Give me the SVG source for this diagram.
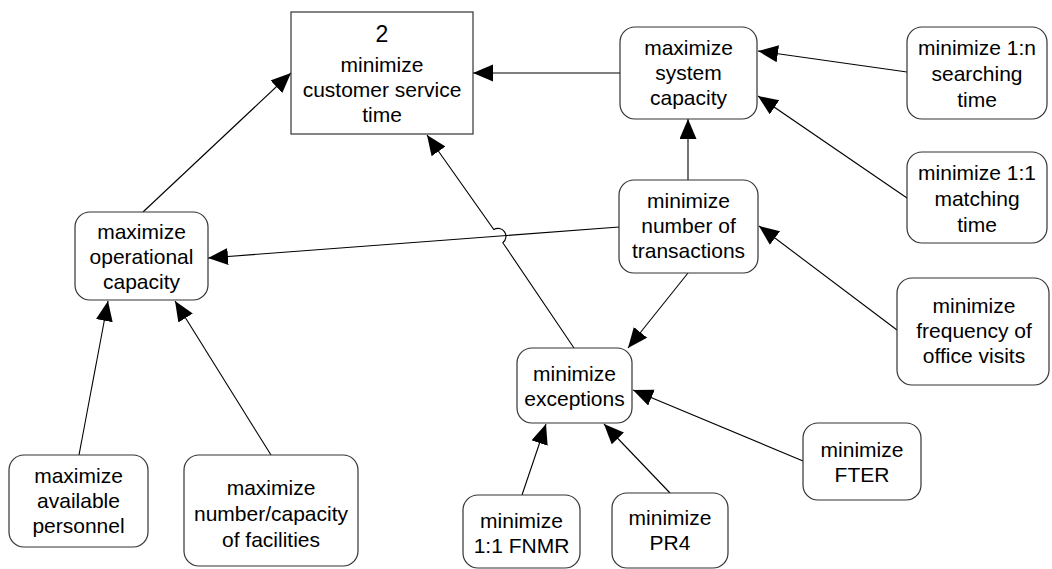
<svg xmlns="http://www.w3.org/2000/svg" width="1052" height="569" viewBox="0 0 1052 569">
  <style>
    .box { fill: #ffffff; stroke: #333333; stroke-width: 1.2; }
    .lbl { font-family: "Liberation Sans", Arial, sans-serif; font-size: 21px; fill: #000000; text-anchor: middle; }
    .big { font-size: 23px; }
    .edge { fill: none; stroke: #000000; stroke-width: 1.1; marker-end: url(#head); }
  </style>
  <defs>
    <marker id="head" markerUnits="userSpaceOnUse" markerWidth="21" markerHeight="18" refX="20" refY="8.5" orient="auto">
      <path d="M0,0 L20,8.5 L0,17 z" fill="#000000"/>
    </marker>
  </defs>
  <rect width="1052" height="569" fill="#ffffff"/>

  <g id="connectors">
    <path class="edge" d="M620,73 L473,73"/>
    <path class="edge" d="M907,72 L758,51"/>
    <path class="edge" d="M907,198 L758,96"/>
    <path class="edge" d="M688,180 L688,119"/>
    <path class="edge" d="M619,227 L208,258"/>
    <path class="edge" d="M143,212 L291,73"/>
    <!-- crosses the horizontal link with a small hop -->
    <path class="edge" d="M574,348 L502.8,242.7 A8,8 0 0 0 493.8,229.5 L427,135"/>
    <path class="edge" d="M688,273 L628,348"/>
    <path class="edge" d="M897,330 L759,226"/>
    <path class="edge" d="M803,461 L633,390"/>
    <path class="edge" d="M522,495 L546,424"/>
    <path class="edge" d="M670,493 L604,424"/>
    <path class="edge" d="M79,455 L108,301"/>
    <path class="edge" d="M271,455 L175,301"/>
  </g>

  <g id="node-service-time">
    <rect class="box" x="291" y="12" width="182" height="122"/>
    <text class="lbl big" x="382" y="42">2</text>
    <text class="lbl" x="382" y="72">minimize</text>
    <text class="lbl" x="382" y="97">customer service</text>
    <text class="lbl" x="382" y="122">time</text>
  </g>

  <g id="node-system-capacity">
    <rect class="box" x="620" y="27" width="137" height="92" rx="15"/>
    <text class="lbl" x="688.5" y="55">maximize</text>
    <text class="lbl" x="688.5" y="80">system</text>
    <text class="lbl" x="688.5" y="105">capacity</text>
  </g>

  <g id="node-searching-time">
    <rect class="box" x="907" y="27" width="140" height="92" rx="15"/>
    <text class="lbl" x="977" y="55">minimize 1:n</text>
    <text class="lbl" x="977" y="81">searching</text>
    <text class="lbl" x="977" y="107">time</text>
  </g>

  <g id="node-matching-time">
    <rect class="box" x="907" y="152" width="140" height="91" rx="15"/>
    <text class="lbl" x="977" y="180">minimize 1:1</text>
    <text class="lbl" x="977" y="206">matching</text>
    <text class="lbl" x="977" y="232">time</text>
  </g>

  <g id="node-transactions">
    <rect class="box" x="619" y="180" width="139" height="93" rx="15"/>
    <text class="lbl" x="688.5" y="208">minimize</text>
    <text class="lbl" x="688.5" y="233">number of</text>
    <text class="lbl" x="688.5" y="258">transactions</text>
  </g>

  <g id="node-operational-capacity">
    <rect class="box" x="75" y="212" width="133" height="88" rx="15"/>
    <text class="lbl" x="141.5" y="239">maximize</text>
    <text class="lbl" x="141.5" y="264">operational</text>
    <text class="lbl" x="141.5" y="289">capacity</text>
  </g>

  <g id="node-office-visits">
    <rect class="box" x="897" y="278" width="152" height="107" rx="15"/>
    <text class="lbl" x="974" y="313">minimize</text>
    <text class="lbl" x="974" y="338">frequency of</text>
    <text class="lbl" x="974" y="363">office visits</text>
  </g>

  <g id="node-exceptions">
    <rect class="box" x="517" y="348" width="115" height="75" rx="15"/>
    <text class="lbl" x="574.5" y="381">minimize</text>
    <text class="lbl" x="574.5" y="406">exceptions</text>
  </g>

  <g id="node-fter">
    <rect class="box" x="803" y="423" width="118" height="77" rx="15"/>
    <text class="lbl" x="862" y="457">minimize</text>
    <text class="lbl" x="862" y="482">FTER</text>
  </g>

  <g id="node-fnmr">
    <rect class="box" x="463" y="495" width="117" height="73" rx="15"/>
    <text class="lbl" x="521.5" y="528">minimize</text>
    <text class="lbl" x="521.5" y="553">1:1 FNMR</text>
  </g>

  <g id="node-pr4">
    <rect class="box" x="612" y="493" width="116" height="75" rx="15"/>
    <text class="lbl" x="670" y="525">minimize</text>
    <text class="lbl" x="670" y="550">PR4</text>
  </g>

  <g id="node-personnel">
    <rect class="box" x="9" y="455" width="139" height="92" rx="15"/>
    <text class="lbl" x="78.5" y="483">maximize</text>
    <text class="lbl" x="78.5" y="508">available</text>
    <text class="lbl" x="78.5" y="533">personnel</text>
  </g>

  <g id="node-facilities">
    <rect class="box" x="184" y="455" width="174" height="111" rx="15"/>
    <text class="lbl" x="271" y="495">maximize</text>
    <text class="lbl" x="271" y="521">number/capacity</text>
    <text class="lbl" x="271" y="547">of facilities</text>
  </g>
</svg>
